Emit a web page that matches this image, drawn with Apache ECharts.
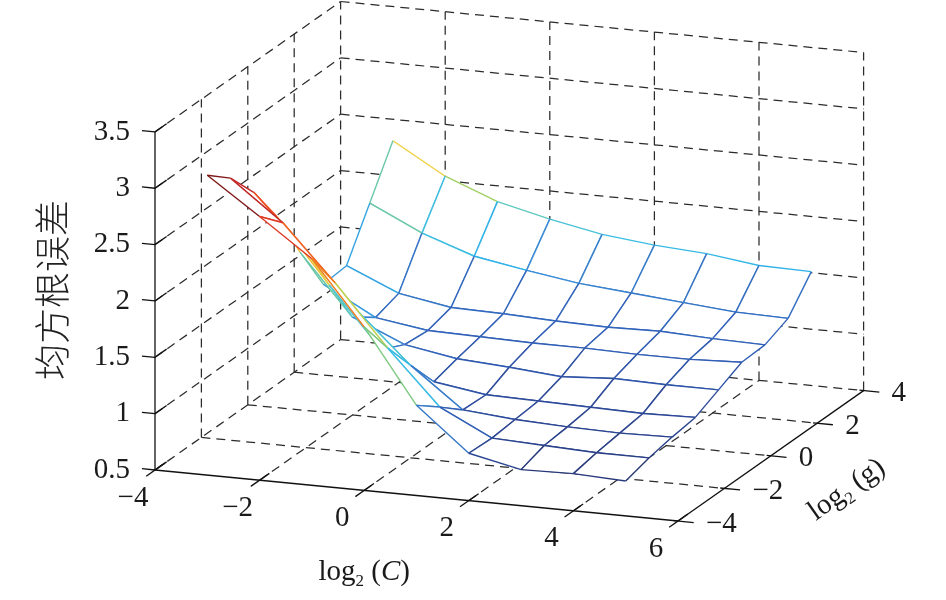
<!DOCTYPE html>
<html>
<head>
<meta charset="UTF-8">
<title>均方根误差</title>
<script src="https://cdn.jsdelivr.net/npm/echarts@6/dist/echarts.min.js"></script>
<style>
  html, body { margin: 0; padding: 0; background: #fff; }
  #main { width: 946px; height: 600px; }
</style>
</head>
<body>
<div id="main"></div>
<script>
// grid search nodes
var logC = [-3, -2, -1, 0, 1, 2, 3, 4, 5];
var logG = [-4, -3, -2, -1, 0, 1, 2, 3, 4];
// RMSE, one row per log2(g) (from -4 up to 4), columns follow logC
var rmse = [
  [3.16, 2.84, 2.51, 1.95, 1.30, 0.92, 0.82, 0.83, 0.81],
  [2.99, 2.64, 2.15, 1.62, 1.14, 0.91, 0.89, 0.87, 0.87],
  [2.72, 2.25, 1.75, 1.32, 0.97, 0.93, 0.91, 0.90, 0.91],
  [2.36, 1.80, 1.27, 1.03, 0.96, 0.95, 0.94, 0.93, 0.94],
  [1.90, 1.37, 1.17, 1.09, 1.06, 1.02, 1.05, 1.04, 1.04],
  [1.47, 1.22, 1.15, 1.14, 1.13, 1.13, 1.12, 1.12, 1.14],
  [1.49, 1.29, 1.21, 1.20, 1.18, 1.17, 1.18, 1.16, 1.15],
  [1.90, 1.68, 1.52, 1.44, 1.37, 1.33, 1.29, 1.25, 1.24],
  [2.31, 2.04, 1.86, 1.75, 1.66, 1.61, 1.58, 1.52, 1.51]
];
var xTicks = [-4, -2, 0, 2, 4, 6];
var yTicks = [-4, -2, 0, 2, 4];
var zTicks = [0.5, 1, 1.5, 2, 2.5, 3, 3.5];
var xRange = [-4, 6], yRange = [-4, 4], zRange = [0.5, 3.5];

// view (like matlab's default 3-D view): screen step of one unit on each axis
var origin = [155, 470];
var ex = [52.3, 5.1], ey = [23.2, -16.3], ez = [0, -112.7];

function proj(x, y, z) {
  var a = x - xRange[0], b = y - yRange[0], c = z - zRange[0];
  return [origin[0] + a * ex[0] + b * ey[0] + c * ez[0],
          origin[1] + a * ex[1] + b * ey[1] + c * ez[1]];
}
// viewing direction = null vector of the projection
var nView = [ey[0] * ez[1] - ez[0] * ey[1], ez[0] * ex[1] - ex[0] * ez[1]];

var SERIF = '"Liberation Serif", "Times New Roman", serif';
var MINUS = '\u2212';

// jet-like map (a bit muted) for the mesh edges
var cmap = [
  [0.00, [40, 56, 120]], [0.06, [45, 74, 154]], [0.145, [48, 96, 184]],
  [0.27, [58, 140, 214]], [0.30, [48, 178, 232]], [0.38, [64, 192, 224]],
  [0.45, [96, 200, 192]], [0.49, [128, 200, 120]], [0.53, [168, 208, 96]],
  [0.64, [240, 208, 64]], [0.72, [240, 128, 32]], [0.81, [240, 80, 32]],
  [0.91, [208, 40, 40]], [1.00, [128, 24, 24]]
];
var zMin = Math.min.apply(null, rmse.map(function (r) { return Math.min.apply(null, r); }));
var zMax = Math.max.apply(null, rmse.map(function (r) { return Math.max.apply(null, r); }));
function colorOf(z) {
  var t = (z - zMin) / (zMax - zMin);
  t = Math.max(0, Math.min(1, t));
  for (var k = 1; k < cmap.length; k++) {
    if (t <= cmap[k][0]) {
      var a = cmap[k - 1], b = cmap[k], f = (t - a[0]) / (b[0] - a[0]);
      var c = [0, 1, 2].map(function (m) { return Math.round(a[1][m] + (b[1][m] - a[1][m]) * f); });
      return 'rgb(' + c.join(',') + ')';
    }
  }
  return 'rgb(128,24,24)';
}

// ---- box: grid lines on back walls and floor, axes, ticks ----
var segs = []; // [x1,y1,z1,x2,y2,z2,solid]
var X0 = xRange[0], X1 = xRange[1], Y0 = yRange[0], Y1 = yRange[1], Z0 = zRange[0], Z1 = zRange[1];
zTicks.forEach(function (z) {
  if (z !== Z0) {
    segs.push([X0, Y1, z, X1, Y1, z, 0]);
    segs.push([X0, Y0, z, X0, Y1, z, 0]);
  }
});
xTicks.forEach(function (x) {
  segs.push([x, Y1, Z0, x, Y1, Z1, 0]);
  if (x !== X1) segs.push([x, Y0, Z0, x, Y1, Z0, 0]);
});
yTicks.forEach(function (y) {
  if (y !== Y0 && y !== Y1) segs.push([X0, y, Z0, X0, y, Z1, 0]);
  if (y !== Y0) segs.push([X0, y, Z0, X1, y, Z0, 0]);
});
segs.push([X0, Y0, Z0, X0, Y0, Z1, 1]);
segs.push([X0, Y0, Z0, X1, Y0, Z0, 1]);
segs.push([X1, Y0, Z0, X1, Y1, Z0, 1]);
xTicks.forEach(function (x) { segs.push([x, Y0 - 0.38, Z0, x, Y0 + 0.42, Z0, 1]); });
yTicks.forEach(function (y) { segs.push([X1 - 0.08, y, Z0, X1 + 0.3, y, Z0, 1]); });
zTicks.forEach(function (z) {
  segs.push([X0 - 0.25, Y0, z, X0, Y0, z, 1]);
  segs.push([X0, Y0, z, X0, Y0 + 0.5, z, 1]);
});

// ---- mesh cells, far ones first ----
var cells = [];
for (var j = 0; j < logG.length - 1; j++) {
  for (var i = 0; i < logC.length - 1; i++) cells.push([i, j]);
}
function cellDepth(c) {
  var cx = (logC[c[0]] + logC[c[0] + 1]) / 2, cy = (logG[c[1]] + logG[c[1] + 1]) / 2;
  return nView[0] * cx + nView[1] * cy;
}
cells.sort(function (a, b) { return cellDepth(b) - cellDepth(a); });

// ---- labels ----
var labels = []; // [x, y, z, text, kind]
zTicks.forEach(function (z) { labels.push([X0, Y0, z, String(z), 'z']); });
xTicks.forEach(function (x) { labels.push([x, Y0, Z0, x < 0 ? MINUS + (-x) : String(x), 'x']); });
yTicks.forEach(function (y) { labels.push([X1, y, Z0, y < 0 ? MINUS + (-y) : String(y), 'y']); });

var chart = echarts.init(document.getElementById('main'));

function renderSeg(params, api) {
  var s = segs[params.dataIndex];
  var p1 = api.coord(proj(s[0], s[1], s[2])), p2 = api.coord(proj(s[3], s[4], s[5]));
  return {
    type: 'line',
    shape: { x1: p1[0], y1: p1[1], x2: p2[0], y2: p2[1] },
    style: s[6] ? { stroke: '#111', lineWidth: 1.3 } : { stroke: '#2b2b2b', lineWidth: 1.25, lineDash: [9, 6] }
  };
}

// edges take the colour of their first node (matlab 'flat' edges)
function renderCell(params, api) {
  var c = cells[params.dataIndex], i = c[0], j = c[1];
  var idx = [[i, j], [i + 1, j], [i + 1, j + 1], [i, j + 1]];
  var pts = idx.map(function (q) { return api.coord(proj(logC[q[0]], logG[q[1]], rmse[q[1]][q[0]])); });
  var edges = [[0, 1, rmse[j][i]], [1, 2, rmse[j][i + 1]], [3, 2, rmse[j + 1][i]], [0, 3, rmse[j][i]]];
  var children = [{ type: 'polygon', shape: { points: pts }, style: { fill: '#fff' } }];
  edges.forEach(function (e) {
    var a = pts[e[0]], b = pts[e[1]];
    children.push({
      type: 'line',
      shape: { x1: a[0], y1: a[1], x2: b[0], y2: b[1] },
      style: { lineWidth: 1.4, stroke: colorOf(e[2]) }
    });
  });
  return { type: 'group', children: children };
}

function renderLabel(params, api) {
  var l = labels[params.dataIndex];
  var p = api.coord(proj(l[0], l[1], l[2]));
  var st = { text: l[3], fill: '#1a1a1a', fontFamily: SERIF, fontSize: 29, verticalAlign: 'middle' };
  if (l[4] === 'z') { st.x = p[0] - 25; st.y = p[1]; st.align = 'right'; }
  else if (l[4] === 'x') { st.x = p[0] - 22; st.y = p[1] + 28; st.align = 'center'; }
  else { st.x = p[0] + 28; st.y = p[1] + 3; st.align = 'left'; }
  return { type: 'text', style: st };
}

var subRich = {
  n: { fontFamily: SERIF, fontSize: 29, lineHeight: 36, fill: '#1a1a1a' },
  s: { fontFamily: SERIF, fontSize: 17, lineHeight: 17, verticalAlign: 'bottom', fill: '#1a1a1a' },
  i: { fontFamily: SERIF, fontSize: 29, lineHeight: 36, fontStyle: 'italic', fill: '#1a1a1a' }
};

function renderTitles(params, api) {
  var pz = api.coord(proj(X0, Y0, (Z0 + Z1) / 2));
  var px = api.coord(proj(0, Y0, Z0));
  var py = api.coord(proj(X1, 0, Z0));
  return {
    type: 'group',
    children: [
      { type: 'text', x: pz[0] - 103, y: pz[1] - 11, rotation: Math.PI / 2,
        style: { text: '均方根误差', fontFamily: '"Noto Sans CJK SC"', fontSize: 36, fontWeight: 300,
                 fill: '#222', align: 'center', verticalAlign: 'middle' } },
      { type: 'text', x: px[0], y: px[1] + 82,
        style: { text: '{n|log}{s|2}{n| (}{i|C}{n|)}', rich: subRich, align: 'center', verticalAlign: 'middle' } },
      { type: 'text', x: py[0] + 76, y: py[1] + 34, rotation: Math.atan2(-ey[1], ey[0]),
        style: { text: '{n|log}{s|2}{n| (g)}', rich: subRich, align: 'center', verticalAlign: 'middle' } }
    ]
  };
}

var option = {
  animation: false,
  backgroundColor: '#fff',
  grid: { left: 0, right: 0, top: 0, bottom: 0 },
  xAxis: { type: 'value', min: 0, max: 946, show: false },
  yAxis: { type: 'value', min: 0, max: 600, inverse: true, show: false },
  series: [
    { type: 'custom', z: 1, renderItem: renderSeg, data: segs.map(function (s, k) { return [k, 0]; }) },
    { type: 'custom', z: 2, renderItem: renderCell, data: cells.map(function (c, k) { return [k, 0]; }) },
    { type: 'custom', z: 3, renderItem: renderLabel, data: labels.map(function (l, k) { return [k, 0]; }) },
    { type: 'custom', z: 3, renderItem: renderTitles, data: [[0, 0]] }
  ]
};
chart.setOption(option);
</script>
</body>
</html>
